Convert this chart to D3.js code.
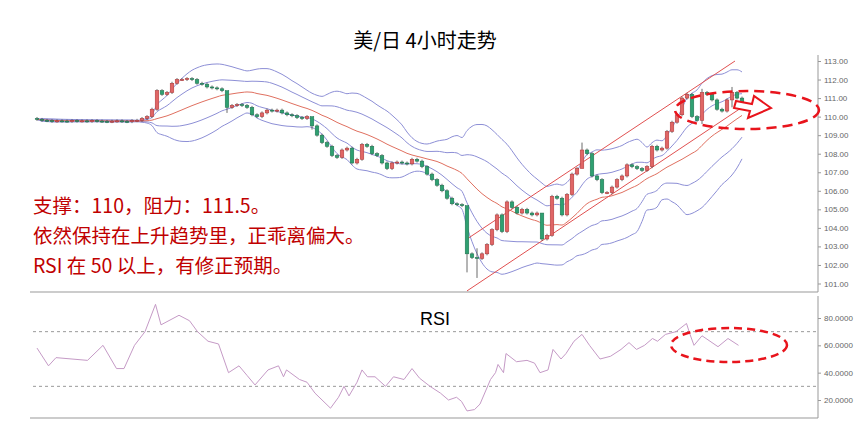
<!DOCTYPE html>
<html><head><meta charset="utf-8">
<script src="https://cdn.jsdelivr.net/npm/d3@7"></script>
<style>body{margin:0;background:#fff}</style></head>
<body><svg id="c" width="860" height="428"></svg>
<script>
const closes = [109.85,109.8,109.78,109.75,109.77,109.76,109.75,109.78,109.76,109.77,109.75,109.78,109.76,109.74,109.73,109.75,109.77,109.74,109.73,109.78,109.8,
109.9,110.0,110.4,111.4,111.2,111.3,111.8,112.0,112.0,112.05,112.0,111.8,111.75,111.6,111.55,111.5,111.4,110.5,110.6,110.65,110.6,110.5,110.1,110.0,110.2,110.35,110.3,110.35,110.2,110.1,110.05,109.95,109.9,110.0,
109.5,109.0,108.6,108.4,107.9,107.8,108.2,108.3,107.5,107.7,108.5,108.4,108.0,107.9,107.5,107.2,107.5,107.55,107.5,107.45,107.7,107.6,107.3,106.9,106.6,106.3,106.0,105.6,105.3,105.25,105.2,
102.6,102.4,102.35,102.6,103.1,103.9,104.7,103.8,105.4,105.1,104.8,105.0,104.8,104.7,104.8,103.4,103.6,105.7,105.6,104.7,105.8,106.9,107.2,108.2,108.0,106.8,106.6,105.9,105.9,106.2,106.6,106.8,107.4,107.3,107.2,107.1,107.3,108.4,108.2,108.3,109.2,109.7,110.1,111.0,111.2,110.0,109.8,111.3,111.2,110.9,110.4,110.3,110.9,111.3,111.0,110.8];
const firstOpen = 109.9;
const longWickIdx = [38, 55, 86, 88, 101, 109, 133, 139];
const longWickHigh = [110.9, 109.9, 103.6, 102.9, 104.3, 108.6, 111.5, 111.6];
const longWickLow = [110.2, 109.3, 101.6, 101.3, 103.3, 107.9, 109.6, 110.5];
const rsiIdx = [0,2.3,3.8,10.1,13.2,15.9,17.4,19.5,21.6,23.7,24.8,28.4,30.5,32.1,34.2,36.3,38.3,40.4,42,43.6,46.2,48.3,49.3,49.9,52.5,54,55.6,58.7,60.3,61.4,62.4,64,65,66.1,67.6,69.7,71.3,73.4,75,76.5,78.6,80.7,82.3,83.9,84.9,86,87.5,88.6,90.7,91.7,92.2,93.3,93.8,95.9,98,99.5,100.6,102.2,103.2,104.8,105.8,107.4,109,110.5,112.6,114.7,116.8,118.4,119.9,121.5,123.1,124.1,125.7,127.8,129.9,130.6,131.4,133,134.6,136.2,138.2,140.3];
const rsiVal = [58,45,51,49,60,43,43,60,70,90,75,82,78,70,63,61,40,45,38,31,42,45,37,42,35,33,25,14,22,30,23,33,42,37,37,30,37,35,43,36,30,25,20,22,19,12,13,17,35,40,46,40,54,48,49,47,40,42,57,50,54,63,68,60,50,52,57,62,57,60,65,63,68,70,76,68,60,67,63,59,65,60];
const priceTicks = [101,102,103,104,105,106,107,108,109,110,111,112,113];
const rsiTicks = [20,40,60,80];
const rsiLevels = [30,70];
const channelUpper = [[86,103.4],[139.6,113]];
const channelLower = [[86,100.6],[141,110.5]];
const notes = ["支撑：110，阻力：111.5。","依然保持在上升趋势里，正乖离偏大。","RSI 在 50 以上，有修正预期。"];

const svg = d3.select("#c");
const x = d3.scaleLinear().domain([0, closes.length-1]).range([37, 742]);
const y = d3.scaleLinear().domain([101,113]).range([283.5, 61]);
const yr = d3.scaleLinear().domain([20,80]).range([400, 318]);

svg.append("text").attr("x",425).attr("y",48).attr("text-anchor","middle")
  .attr("font-family","Noto Sans CJK SC").attr("font-size",20).text("美/日 4小时走势");

svg.append("line").attr("x1",30).attr("x2",818).attr("y1",292).attr("y2",292).attr("stroke","#999");
svg.append("line").attr("x1",30).attr("x2",818).attr("y1",418).attr("y2",418).attr("stroke","#999");
const ax = svg.append("g").attr("transform","translate(818,0)")
  .call(d3.axisRight(y).tickValues(priceTicks).tickFormat(d3.format(".2f")).tickSize(3));
const ax2 = svg.append("g").attr("transform","translate(818,0)")
  .call(d3.axisRight(yr).tickValues(rsiTicks).tickFormat(d=>d.toFixed(4)).tickSize(3));
ax2.select(".domain").attr("d","M0,296V418");
ax.select(".domain").attr("d","M0,55V292");
[ax,ax2].forEach(a=>{a.selectAll("text").attr("fill","#666").attr("font-size",8).attr("font-family","Arial");
  a.selectAll("line,path").attr("stroke","#999");});

const N=20, mid=[], up1=[], up2=[], lo1=[], lo2=[];
closes.forEach((c,i)=>{ if(i<N-1) return; const w=closes.slice(i-N+1,i+1); const m=d3.mean(w), s=d3.deviation(w)*Math.sqrt((N-1)/N);
  mid.push([i,m]); up1.push([i,m+s]); lo1.push([i,m-s]); up2.push([i,m+2*s]); lo2.push([i,m-2*s]);});
for(let i=N-2;i>=0;i--){ const w=closes.slice(0,i+1); const m=d3.mean(w), s=(w.length>1?d3.deviation(w):0);
  mid.unshift([i,m]); up1.unshift([i,m+s]); lo1.unshift([i,m-s]); up2.unshift([i,m+2*s]); lo2.unshift([i,m-2*s]);}
const ln = d3.line().x(d=>x(d[0])).y(d=>y(d[1])).curve(d3.curveMonotoneX);
[up2,lo2,up1,lo1].forEach(s=>svg.append("path").attr("d",ln(s)).attr("fill","none").attr("stroke","#8d8fd6").attr("stroke-width",1));
svg.append("path").attr("d",ln(mid)).attr("fill","none").attr("stroke","#e07060").attr("stroke-width",1);

[channelUpper,channelLower].forEach(s=>svg.append("path").attr("d",d3.line().x(d=>x(d[0])).y(d=>y(d[1]))(s))
  .attr("stroke","#e05050").attr("fill","none").attr("stroke-width",1));

const cg=svg.append("g");
closes.forEach((c,i)=>{
  const o = i===0?firstOpen:closes[i-1];
  const k = longWickIdx.indexOf(i);
  const hi = k>=0?longWickHigh[k]:Math.max(o,c)+0.08, lo = k>=0?longWickLow[k]:Math.min(o,c)-0.08;
  const upC = c>=o, col = upC?"#e06666":"#2fa071", st = upC?"#a33":"#1d6e4c";
  cg.append("line").attr("x1",x(i)).attr("x2",x(i)).attr("y1",y(hi)).attr("y2",y(lo)).attr("stroke","#444").attr("stroke-width",0.8);
  const top=y(Math.max(o,c)), h=Math.max(1,Math.abs(y(o)-y(c)));
  cg.append("rect").attr("x",x(i)-1.8).attr("y",top).attr("width",3.6).attr("height",h).attr("fill",col).attr("stroke",st).attr("stroke-width",0.5);
});

notes.forEach((t,i)=>svg.append("text").attr("x",33).attr("y",213+i*30).attr("fill","#c00000")
  .attr("font-family","Noto Sans CJK SC").attr("font-size",19.5).text(t));

svg.append("text").attr("x",435).attr("y",325).attr("text-anchor","middle").attr("font-family","Arial").attr("font-size",18).text("RSI");
rsiLevels.forEach(v=>svg.append("line").attr("x1",33).attr("x2",818).attr("y1",yr(v)).attr("y2",yr(v)).attr("stroke","#999").attr("stroke-dasharray","3,3"));
svg.append("path").attr("d",d3.line().x((d,i)=>x(rsiIdx[i])).y(d=>yr(d))(rsiVal)).attr("fill","none").attr("stroke","#c59ac6").attr("stroke-width",1);

svg.append("ellipse").attr("cx",747).attr("cy",110).attr("rx",72).attr("ry",19).attr("fill","none").attr("stroke","#e8141c").attr("stroke-width",2.5).attr("stroke-dasharray","10,6");
svg.append("ellipse").attr("cx",729).attr("cy",345).attr("rx",58).attr("ry",17).attr("fill","none").attr("stroke","#e8141c").attr("stroke-width",2.5).attr("stroke-dasharray","8,5");
svg.append("path").attr("d","M736,101 L752,104 L754,96 L771,108 L748,118 L750,111 L734,108 Z").attr("fill","#fff").attr("stroke","#e8141c").attr("stroke-width",2);
</script></body></html>
